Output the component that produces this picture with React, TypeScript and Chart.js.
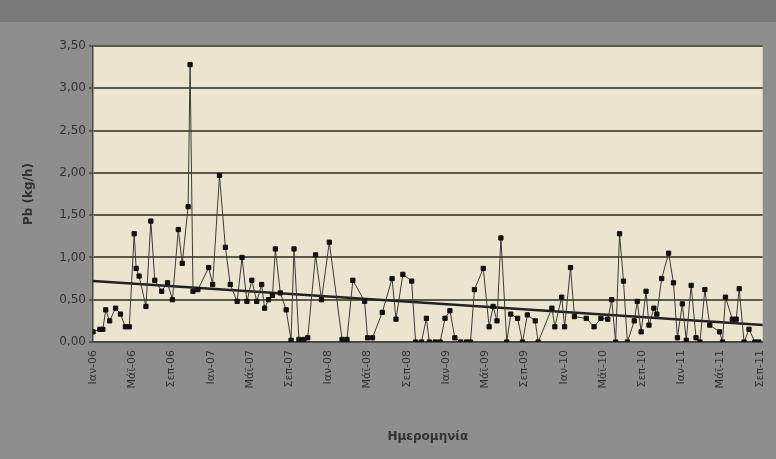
import React, { useEffect, useRef } from "react";
import { Chart, registerables } from "chart.js";
Chart.register(...registerables);

const monthNames = ["Ιαν", "Μάϊ", "Σεπ"];
const xPix = [93,100,103,106,110,116,121,126,130,135,137,140,147,152,156,163,169,174,180,184,190,192,195,200,211,215,222,228,233,240,245,250,255,260,265,268,272,276,279,284,290,295,298,303,308,312,320,326,334,347,352,358,370,373,378,388,398,402,409,418,422,428,433,436,442,447,452,457,462,468,474,478,482,491,497,501,505,509,515,519,526,531,536,544,547,561,564,571,574,580,584,596,604,611,618,622,626,630,634,638,645,648,652,657,660,665,668,673,680,685,689,694,698,703,708,712,717,722,732,735,738,745,749,752,757,762,768,772];
const pbValues = [0.12,0.15,0.15,0.38,0.25,0.40,0.33,0.18,0.18,1.28,0.87,0.78,0.42,1.43,0.73,0.60,0.70,0.50,1.33,0.93,1.60,3.28,0.60,0.62,0.88,0.68,1.97,1.12,0.68,0.48,1.00,0.48,0.73,0.48,0.68,0.40,0.50,0.55,1.10,0.58,0.38,0.02,1.10,0.03,0.03,0.05,1.03,0.50,1.18,0.03,0.03,0.73,0.48,0.05,0.05,0.35,0.75,0.27,0.80,0.72,0.0,0.0,0.28,0.0,0.0,0.0,0.28,0.37,0.05,0.0,0.0,0.0,0.62,0.87,0.18,0.42,0.25,1.23,0.0,0.33,0.28,0.0,0.32,0.25,0.0,0.40,0.18,0.53,0.18,0.88,0.30,0.28,0.18,0.28,0.27,0.50,0.0,1.28,0.72,0.0,0.25,0.48,0.12,0.60,0.20,0.40,0.33,0.75,1.05,0.70,0.05,0.45,0.02,0.67,0.05,0.0,0.62,0.20,0.12,0.0,0.53,0.27,0.27,0.63,0.0,0.15,0.0,0.0];
// month index (0 = Jan-06) of each sample
const months = xPix.map((p) => (p - 93) / 10);
const trendMonths = [0, 68.4];
const trendValues = [0.72, 0.2];

export default function App() {
  const ref = useRef<HTMLCanvasElement>(null);
  useEffect(() => {
    document.body.style.margin = "0";
    const bg = {
      id: "bg",
      beforeDraw(c: any) {
        const { ctx, chartArea: a } = c;
        ctx.save();
        ctx.fillStyle = "#8e8e8e";
        ctx.fillRect(0, 0, c.width, c.height);
        ctx.fillStyle = "#7a7a7a";
        ctx.fillRect(0, 0, c.width, 22);
        ctx.fillStyle = "#ebe5d0";
        ctx.fillRect(a.left, a.top, a.right - a.left, a.bottom - a.top);
        ctx.restore();
      },
    };
    const chart = new Chart(ref.current!, {
      type: "scatter",
      data: {
        datasets: [
          {
            data: months.map((m, i) => ({ x: m, y: pbValues[i] })),
            showLine: true,
            borderColor: "#3a3a3a",
            borderWidth: 1,
            pointStyle: "rect",
            pointRadius: 3,
            pointBackgroundColor: "#111",
            pointBorderColor: "#111",
          },
          {
            data: trendMonths.map((m, i) => ({ x: m, y: trendValues[i] })),
            showLine: true,
            borderColor: "#222",
            borderWidth: 2.5,
            pointRadius: 0,
          },
        ],
      },
      plugins: [bg],
      options: {
        animation: false,
        responsive: false,
        layout: { padding: { top: 46, right: 0, left: 18, bottom: 15 } },
        plugins: { legend: { display: false }, tooltip: { enabled: false } },
        scales: {
          x: {
            type: "linear",
            min: 0,
            max: 68.3,
            afterFit: (s: any) => { s.height = 102; },
            afterBuildTicks: (s: any) => {
              const t = [];
              for (let m = 0; m <= 68; m += 4) t.push({ value: m });
              s.ticks = t;
            },
            grid: { display: false, drawTicks: true, tickLength: 5, color: "#444" },
            border: { color: "#444", width: 1.5 },
            ticks: {
              maxRotation: 90,
              minRotation: 90,
              autoSkip: false,
              color: "#333",
              font: { family: "DejaVu Sans", size: 11 },
              callback: (v: any) => {
                const m = Number(v);
                const yr = 6 + Math.floor(m / 12);
                return monthNames[(m % 12) / 4] + "-" + String(yr).padStart(2, "0");
              },
            },
            title: {
              display: true,
              text: "Ημερομηνία",
              color: "#333",
              font: { family: "DejaVu Sans", size: 12, weight: "bold" },
              padding: { top: 8, bottom: 0 },
            },
          },
          y: {
            min: 0,
            max: 3.5,
            afterFit: (s: any) => { s.width = 75; },
            ticks: {
              stepSize: 0.5,
              color: "#333",
              font: { family: "DejaVu Sans", size: 12 },
              callback: (v: any) => Number(v).toFixed(2).replace(".", ","),
            },
            grid: { color: "#5a5a4a", lineWidth: 2, tickLength: 4 },
            border: { color: "#444", width: 1.5 },
            title: {
              display: true,
              text: "Pb (kg/h)",
              color: "#333",
              font: { family: "DejaVu Sans", size: 12, weight: "bold" },
            },
          },
        },
      },
    });
    return () => chart.destroy();
  }, []);
  return <canvas ref={ref} width={776} height={459} style={{ display: "block" }} />;
}
